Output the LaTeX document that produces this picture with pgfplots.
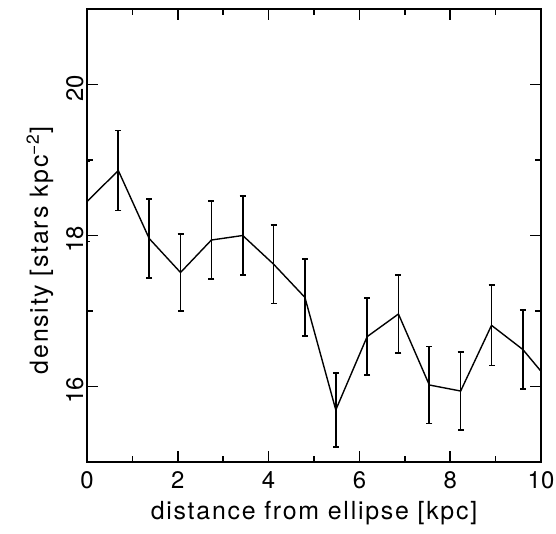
\documentclass[border=0pt]{standalone}
\usepackage{fontspec}
\setmainfont{TeX Gyre Heros}
\newfontfamily\labfont[LetterSpace=7]{TeX Gyre Heros}
\usepackage{pgfplots}
\pgfplotsset{compat=1.18}
\begin{document}
\begin{tikzpicture}
\path[use as bounding box] (-87bp,-72bp) rectangle (469bp,462bp);
\begin{axis}[
  at={(0,0)}, anchor=south west,
  scale only axis, width=454bp, height=453bp,
  xmin=0, xmax=10, ymin=15, ymax=21,
  xtick={0,2,4,6,8,10}, ytick={16,18,20},
  minor xtick={1,3,5,7,9}, minor ytick={15,17,19,21},
  xtick pos=both, ytick pos=both, tick align=inside,
  major tick length=0.39cm, minor tick length=0.21cm,
  every tick/.append style={line width=1.3pt, black},
  axis line style={line width=1.4pt},
  tick label style={font=\fontsize{24}{28}\selectfont},
  label style={font=\labfont\fontsize{25}{29}\selectfont},
  /pgf/number format/assume math mode=true,
  yticklabel style={rotate=90, anchor=south, xshift=-4bp},
  xticklabel style={yshift=-6bp},
  xlabel={distance from ellipse [kpc]},
  ylabel={density [stars kpc\textsuperscript{−2}]},
  xlabel style={yshift=-6bp},
  ylabel style={yshift=6bp, xshift=-15bp},
  axis on top,
]
\addplot[black, line width=1.4pt, mark=none,
  error bars/.cd, y dir=both, y explicit,
  error bar style={line width=1.7pt, black},
  error mark options={rotate=90, mark size=3pt, line width=1.7pt, black}]
  table[x=x, y=y, y error=e] {
x y e
0 18.45 0.53
0.69 18.86 0.53
1.37 17.96 0.52
2.06 17.51 0.51
2.74 17.94 0.52
3.43 18.00 0.52
4.11 17.62 0.52
4.80 17.18 0.51
5.48 15.69 0.49
6.17 16.66 0.51
6.86 16.96 0.52
7.54 16.02 0.51
8.23 15.94 0.52
8.91 16.81 0.53
9.60 16.49 0.52
10.28 16.00 0.52
};
\pgfplotsinvokeforeach{2,4,6,8}{
  \draw[black, line width=1.5pt] (axis cs:#1,15) -- (axis cs:#1,15.15);
  \draw[black, line width=1.5pt] (axis cs:#1,21) -- (axis cs:#1,20.85);
}
\pgfplotsinvokeforeach{1,3,5,7,9}{
  \draw[black, line width=1.5pt] (axis cs:#1,15) -- (axis cs:#1,15.08);
  \draw[black, line width=1.5pt] (axis cs:#1,21) -- (axis cs:#1,20.92);
}
\pgfplotsinvokeforeach{16,18,20}{
  \draw[black, line width=1.5pt] (axis cs:0,#1) -- (axis cs:0.25,#1);
  \draw[black, line width=1.5pt] (axis cs:10,#1) -- (axis cs:9.75,#1);
}
\pgfplotsinvokeforeach{17,19}{
  \draw[black, line width=1.5pt] (axis cs:0,#1) -- (axis cs:0.13,#1);
  \draw[black, line width=1.5pt] (axis cs:10,#1) -- (axis cs:9.87,#1);
}
\end{axis}
\end{tikzpicture}
\end{document}
